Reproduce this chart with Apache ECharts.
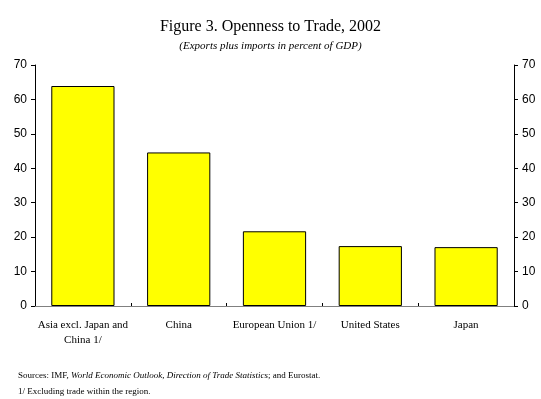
<!DOCTYPE html>
<html>
<head>
<meta charset="utf-8">
<script src="https://cdn.jsdelivr.net/npm/echarts@6/dist/echarts.min.js"></script>
<style>
  html, body { margin: 0; padding: 0; background: #fff; }
  #chart { width: 541px; height: 399px; }
</style>
</head>
<body>
<div id="chart"></div>
<script>
// figure data
const regions = ['Asia excl. Japan and\nChina 1/', 'China', 'European Union 1/', 'United States', 'Japan'];
const openness = [63.9, 44.6, 21.7, 17.4, 17.1];
const yTicks = [0, 10, 20, 30, 40, 50, 60, 70];

const serif = '"Liberation Serif", "DejaVu Serif", serif';
const chart = echarts.init(document.getElementById('chart'));

const valueAxis = (pos) => ({
  type: 'value',
  position: pos,
  min: yTicks[0],
  max: yTicks[yTicks.length - 1],
  interval: 10,
  axisLine: { show: true, lineStyle: { color: '#000', width: 1 } },
  axisTick: { show: true, inside: false, length: 4, lineStyle: { color: '#000' } },
  axisLabel: { color: '#000', fontFamily: '"Liberation Sans", Arial, sans-serif', fontSize: 12, margin: 8 },
  splitLine: { show: false }
});

chart.setOption({
  animation: false,
  title: {
    text: 'Figure 3. Openness to Trade, 2002',
    subtext: '(Exports plus imports in percent of GDP)',
    left: 'center',
    top: 14,
    itemGap: 6,
    textStyle: { fontFamily: serif, fontSize: 16, fontWeight: 'normal', color: '#000' },
    subtextStyle: { fontFamily: serif, fontSize: 11, fontStyle: 'italic', color: '#000' }
  },
  grid: { left: 35, right: 27, top: 65, bottom: 93 },
  xAxis: [
    {
      type: 'category',
      data: regions,
      position: 'bottom',
      axisLine: { lineStyle: { color: '#000' } },
      axisTick: { show: true, inside: true, length: 3, lineStyle: { color: '#000' } },
      axisLabel: { color: '#000', fontFamily: serif, fontSize: 11, margin: 12, lineHeight: 15, interval: 0 }
    },
    {
      type: 'category',
      data: regions,
      position: 'top',
      axisLine: { lineStyle: { color: '#808080' } },
      axisTick: { show: false },
      axisLabel: { show: false }
    }
  ],
  yAxis: [valueAxis('left'), valueAxis('right')],
  series: [{
    type: 'bar',
    data: openness,
    barWidth: '66%',
    itemStyle: { color: '#ffff00', borderColor: '#000', borderWidth: 1 }
  }],
  graphic: [
    {
      type: 'text',
      left: 18,
      top: 371,
      style: {
        text: 'Sources: IMF, {i|World Economic Outlook}, {i|Direction of Trade Statistics}; and Eurostat.',
        font: '9px ' + serif,
        fill: '#000',
        rich: { i: { fontStyle: 'italic', fontSize: 9, fontFamily: serif } }
      }
    },
    {
      type: 'text',
      left: 18,
      top: 387,
      style: { text: '1/ Excluding trade within the region.', font: '9px ' + serif, fill: '#000' }
    }
  ]
});
</script>
</body>
</html>
